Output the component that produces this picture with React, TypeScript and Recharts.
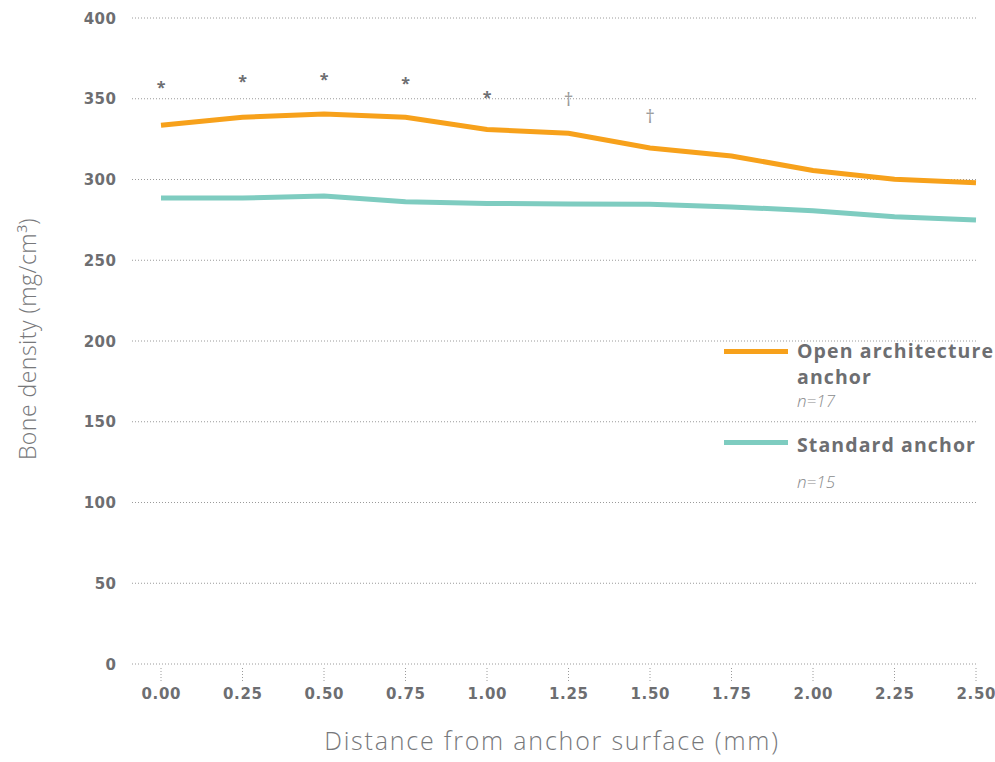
import React from 'react';
import { LineChart, Line, XAxis, YAxis, CartesianGrid } from 'recharts';

const distances = ['0.00', '0.25', '0.50', '0.75', '1.00', '1.25', '1.50', '1.75', '2.00', '2.25', '2.50'];
const openArchitecture = [333.6, 338.5, 340.6, 338.5, 331, 328.6, 319.5, 314.6, 305.6, 300.1, 298];
const standardAnchor = [288.5, 288.5, 289.8, 286.2, 285.2, 284.8, 284.6, 283, 280.7, 277, 274.9];
const markerValues = [360, 363.7, 365, 362.5, 353.4, 349.4, 338.5, null, null, null, null];
const markerSymbols = ['*', '*', '*', '*', '*', '†', '†', '', '', '', ''];
const yTicks = [0, 50, 100, 150, 200, 250, 300, 350, 400];

const seriesNameLines = [['Open architecture', 'anchor'], ['Standard anchor']];
const seriesNotes = ['n=17', 'n=15'];
const seriesColors = ['#F7A11B', '#7ECCC0'];

const data = distances.map((d, i) => ({
  d,
  open: openArchitecture[i],
  std: standardAnchor[i],
  mark: markerValues[i],
}));

const FONT = '"Open Sans", "Noto Sans", sans-serif';
const TICKFONT = '"DejaVu Sans", sans-serif';
const GRAY = '#6d6e71';

const XTick = (props: any) => {
  const { x, y, payload } = props;
  return (
    <g>
      <line x1={x} x2={x} y1={y + 4} y2={y + 19} stroke="#9a9a9a" strokeDasharray="1 2" />
      <text x={x + 0.3} y={y + 35} textAnchor="middle" fill={GRAY} fontFamily={TICKFONT} fontWeight={700} fontSize={15} letterSpacing={0.6}>
        {payload.value}
      </text>
    </g>
  );
};

const YTick = (props: any) => {
  const { x, y, payload } = props;
  return (
    <text x={x + 0.5} y={y + 5.5} textAnchor="end" fill={GRAY} fontFamily={TICKFONT} fontWeight={700} fontSize={15} letterSpacing={0.5}>
      {payload.value}
    </text>
  );
};

const renderMark = (props: any) => {
  const { x, y, index } = props;
  const s = markerSymbols[index];
  if (!s || x == null || y == null || isNaN(y)) return <g key={`m${index}`} />;
  if (s === '*') {
    return (
      <text key={`m${index}`} x={x} y={y + 10} textAnchor="middle" fill={GRAY} fontFamily={FONT} fontWeight={700} fontSize={16}>
        {s}
      </text>
    );
  }
  return (
    <text key={`m${index}`} x={x} y={y + 6} textAnchor="middle" fill="#9a9a9a" fontFamily={FONT} fontWeight={400} fontSize={19}>
      {s}
    </text>
  );
};

const legendTops = [337.5, 432];
const swatchTops = [349, 440];
const noteTops = [393, 474];

export default function App() {
  return (
    <div style={{ position: 'absolute', left: 0, top: 0, width: 995, height: 762, background: '#fff', overflow: 'hidden' }}>
      <LineChart width={995} height={762} data={data} margin={{ top: 18, right: 19, bottom: 0, left: 0 }}>
        <CartesianGrid vertical={false} stroke="#9a9a9a" strokeDasharray="1 2" />
        <XAxis
          dataKey="d"
          type="category"
          padding={{ left: 29, right: 0 }}
          axisLine={false}
          tickLine={false}
          tickSize={0}
          tickMargin={0}
          height={98}
          interval={0}
          tick={<XTick />}
          label={(p: any) => (
            <text x={552} y={750} textAnchor="middle" fill="#77787b" fontFamily={FONT} fontWeight={300} fontSize={25} letterSpacing={1.8}>
              Distance from anchor surface (mm)
            </text>
          )}
        />
        <YAxis
          domain={[0, 400]}
          ticks={yTicks}
          width={132}
          axisLine={false}
          tickLine={false}
          tickSize={0}
          tickMargin={16}
          tick={<YTick />}
          label={(p: any) => (
            <text
              x={36}
              y={339}
              transform="rotate(-90 36 339)"
              textAnchor="middle"
              fill="#77787b"
              fontFamily={FONT}
              fontWeight={300}
              fontSize={23}
              letterSpacing={0.5}
            >
              Bone density (mg/cm³)
            </text>
          )}
        />
        <Line dataKey="std" stroke={seriesColors[1]} strokeWidth={5} dot={false} isAnimationActive={false} />
        <Line dataKey="open" stroke={seriesColors[0]} strokeWidth={5} dot={false} isAnimationActive={false} />
        <Line dataKey="mark" stroke="none" dot={false} activeDot={false} isAnimationActive={false} label={renderMark} />
      </LineChart>
      {seriesNameLines.map((lines, i) => (
        <React.Fragment key={lines.join(' ')}>
          <div style={{ position: 'absolute', left: 724, top: swatchTops[i], width: 64, height: 5, background: seriesColors[i] }} />
          <div
            style={{
              position: 'absolute',
              left: 797,
              top: legendTops[i],
              whiteSpace: 'nowrap',
              fontFamily: FONT,
              fontWeight: 700,
              fontSize: 19.5,
              letterSpacing: 1.1,
              lineHeight: '26px',
              color: GRAY,
            }}
          >
            {lines.map((l) => (
              <div key={l}>{l}</div>
            ))}
          </div>
          <div
            style={{
              position: 'absolute',
              left: 797,
              top: noteTops[i],
              fontFamily: FONT,
              fontStyle: 'italic',
              fontWeight: 300,
              fontSize: 17,
              lineHeight: '16px',
              color: '#8a8b8d',
              whiteSpace: 'nowrap',
            }}
          >
            {seriesNotes[i]}
          </div>
        </React.Fragment>
      ))}
    </div>
  );
}
